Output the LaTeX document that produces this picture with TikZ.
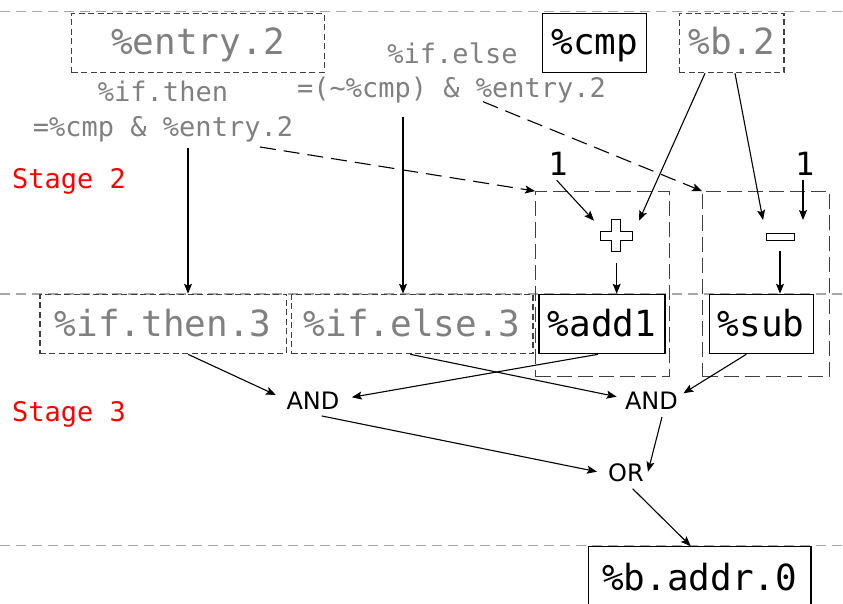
\documentclass[tikz,border=0pt]{standalone}
\usepackage{fontspec}
\setmonofont{DejaVu Sans Mono}
\setsansfont{DejaVu Sans}
\usetikzlibrary{arrows.meta,calc}
\definecolor{txtgray}{HTML}{808080}
\definecolor{boxgray}{HTML}{404040}
\definecolor{rulegray}{HTML}{A6A6A6}
\begin{document}
\begin{tikzpicture}[x=1pt,y=-1pt,
  big/.style={font=\ttfamily\fontsize{36}{40}\selectfont, inner sep=0pt,
    text height=30pt, text depth=6pt, minimum height=59.4pt},
  solidbox/.style={big, draw=black, line width=1.2pt},
  dashbox/.style={big, draw=boxgray, line width=1.2pt,
    dash pattern=on 6pt off 3.5pt, text=txtgray},
  group/.style={draw=boxgray, line width=1.2pt, dash pattern=on 15pt off 6pt,
    inner sep=0pt},
  lbl/.style={font=\ttfamily\fontsize{27}{32}\selectfont, text=txtgray,
    inner sep=0pt, anchor=base},
  stagelbl/.style={font=\ttfamily\fontsize{27}{32}\selectfont, text=red,
    inner sep=0pt, anchor=base west},
  one/.style={font=\ttfamily\fontsize{32}{36}\selectfont, inner sep=0pt},
  gate/.style={font=\sffamily\fontsize{24}{28}\selectfont, inner sep=0pt},
  arr/.style={line width=1.1pt, -{Stealth[length=10pt,width=8pt,inset=2pt]}},
  darr/.style={arr, dash pattern=on 16pt off 8pt},
  rulerline/.style={draw=rulegray, line width=1.2pt, dash pattern=on 10pt off 6pt}]
\useasboundingbox (0,0) rectangle (843,604);

% stage separators
\draw[rulerline] (0,11.7) -- (843,11.7);
\draw[rulerline] (0,294) -- (843,294);
\draw[rulerline] (0,545.7) -- (843,545.7);

% stage labels
\node[stagelbl] (st2) at (12,188.3) {Stage 2};
\node[stagelbl] (st3) at (12,421.7) {Stage 3};

% stage 2 inputs
\node[dashbox, minimum width=252.3pt] (entry) at (198,43) {\%entry.2};
\node[solidbox, minimum width=104pt] (cmp) at (594.7,43) {\%cmp};
\node[dashbox, minimum width=104.7pt] (b2) at (731.7,43) {\%b.2};

% branch conditions
\node[lbl] (thenA) at (163,101.7) {\%if.then};
\node[lbl] (thenB) at (163,136.7) {=\%cmp \& \%entry.2};
\node[lbl] (elseA) at (452.5,63.3) {\%if.else};
\node[lbl] (elseB) at (451.5,98) {=(\textasciitilde\%cmp) \& \%entry.2};

% predicated groups
\node[group, minimum width=133.6pt, minimum height=185pt] (g1) at (602.5,284.2) {};
\node[group, minimum width=126.6pt, minimum height=185pt] (g2) at (766,284.2) {};

% constants and operators
\node[one] (one1) at (558,163.4) {1};
\node[one] (one2) at (804.7,163.4) {1};
\node[minimum size=32pt, inner sep=0pt] (plus) at (616,235.5) {};
\draw[line width=1pt, fill=white, shift={(plus.center)}]
  (-4.5,-16) -- (4.5,-16) -- (4.5,-4.5) -- (16,-4.5) -- (16,4.5) -- (4.5,4.5)
  -- (4.5,16) -- (-4.5,16) -- (-4.5,4.5) -- (-16,4.5) -- (-16,-4.5)
  -- (-4.5,-4.5) -- cycle;
\node[draw, line width=1pt, fill=white, minimum width=28pt, minimum height=7.7pt,
  inner sep=0pt] (minus) at (780,237) {};

% stage 3 values
\node[dashbox, minimum width=246.7pt] (thenbox) at (163.3,324) {\%if.then.3};
\node[dashbox, minimum width=241.3pt] (elsebox) at (412.3,324) {\%if.else.3};
\node[solidbox, minimum width=126pt] (add1) at (602,324) {\%add1};
\node[solidbox, minimum width=104pt] (sub) at (761.3,324) {\%sub};

% select logic
\node[gate] (and1) at (313,401) {AND};
\node[gate] (and2) at (651.5,401) {AND};
\node[gate] (or) at (626,473) {OR};

% output
\node[solidbox, minimum width=222.7pt, minimum height=64pt] (baddr) at (699.7,578.7) {\%b.addr.0};

% condition wires
\coordinate (t1) at (188,148);
\coordinate (e1) at (403,117);
\coordinate (t2) at (260,147);
\coordinate (e2) at (483,101.7);
\draw[arr] (t1) -- (t1 |- thenbox.north);
\draw[arr] (e1) -- (e1 |- elsebox.north);
\draw[darr] (t2) -- (g1.north west);
\draw[darr] (e2) -- (g2.north west);

% arithmetic wires
\draw[arr] ($(one1.south)+(-1.3,5)$) -- ($(plus.center)+(-22,-14.8)$);
\draw[arr] ($(b2.south)+(-26.7,0)$) -- ($(plus.center)+(23,-14.8)$);
\draw[arr] ($(b2.south)+(3.3,0)$) -- ($(minus.center)+(-17,-17)$);
\draw[arr] ($(one2.south)+(-1.7,5)$) -- ($(minus.center)+(23,-17)$);
\draw[arr] ($(plus.south)+(0.7,11.5)$) coordinate (pa) -- (pa |- add1.north);
\draw[arr] ($(minus.south)+(0,9.7)$) coordinate (ma) -- (ma |- sub.north);

% select wires
\draw[arr] ($(thenbox.south)+(24.7,0)$) -- ($(and1.west)+(-10.5,-6)$);
\draw[arr] ($(add1.south)+(-4,0)$) -- ($(and1.east)+(12.2,-3.7)$);
\draw[arr] ($(elsebox.south)+(-2,0)$) -- ($(and2.west)+(-8.3,-4.3)$);
\draw[arr] ($(sub.south)+(-15,0)$) -- ($(and2.east)+(5.3,-7.7)$);
\draw[arr] ($(and1.south)+(8.7,6)$) -- ($(or.west)+(-11,-1.3)$);
\draw[arr] ($(and2.south)+(10.5,7)$) -- ($(or.east)+(4,-1.3)$);
\draw[arr] ($(or.south)+(6.7,6.5)$) -- ($(baddr.north)+(-9,0)$);
\end{tikzpicture}
\end{document}
